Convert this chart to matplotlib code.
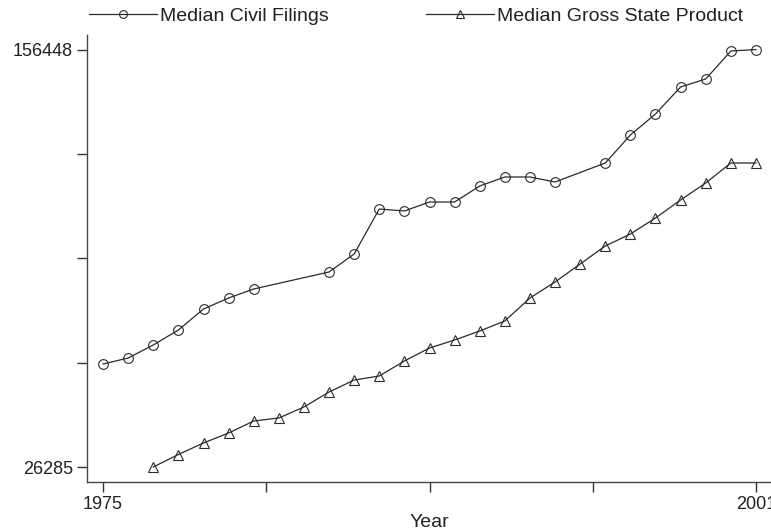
import numpy as np
import matplotlib
matplotlib.use("Agg")
import matplotlib.pyplot as plt

plt.rcParams['font.family'] = ['Liberation Sans', 'DejaVu Sans']

# Median civil filings by year (1982, 1983 and 1994 missing)
civil_years = [1975, 1976, 1977, 1978, 1979, 1980, 1981, 1984, 1985, 1986, 1987,
               1988, 1989, 1990, 1991, 1992, 1993, 1995, 1996, 1997, 1998, 1999,
               2000, 2001]
civil_vals = [58400, 60270, 64330, 69000, 75550, 78980, 81790, 87090, 92700,
              106730, 106110, 108910, 108910, 113900, 116710, 116710, 115150,
              121070, 129800, 136350, 144770, 147260, 155990, 156448]

# Median gross state product by year
gsp_years = list(range(1977, 2002))
gsp_vals = [26285, 30180, 33770, 36890, 40630, 41560, 44990, 49670, 53410,
            54660, 59340, 63390, 65880, 68690, 71810, 78980, 83970, 89580,
            95190, 98930, 103920, 109540, 114840, 121070, 121070]

y_min, y_max = 26285, 156448
x_min, x_max = 1975, 2001

fig = plt.figure(figsize=(7.71, 5.29), dpi=100)
ax = fig.add_axes([87 / 771, 47 / 529, 684 / 771, 447 / 529])

col = '#2a2a2a'
l1, = ax.plot(civil_years, civil_vals, color=col, lw=0.9, marker='o', ms=7,
              mfc='none', mec=col, mew=0.8, label='Median Civil Filings')
l2, = ax.plot(gsp_years, gsp_vals, color=col, lw=0.9, marker='^', ms=7,
              mfc='none', mec=col, mew=0.8, label='Median Gross State Product')

ax.set_xlim(1974.36, 2001.6)
ax.set_ylim(21608, 160983)

ax.set_yticks(np.linspace(y_min, y_max, 5))
ax.set_yticklabels([str(y_min), '', '', '', str(y_max)])
ax.set_xticks(np.linspace(x_min, x_max, 5))
ax.set_xticklabels([str(x_min), '', '', '', str(x_max)])

for s in ['top', 'right']:
    ax.spines[s].set_visible(False)
for s in ['left', 'bottom']:
    ax.spines[s].set_color('#444444')
    ax.spines[s].set_linewidth(1.0)
ax.tick_params(length=7, width=1.0, color='#333333', labelsize=13,
               labelcolor='#222222', pad=3)

ax.set_xlabel('Year', fontsize=14, color='#222222', labelpad=1)

fig.legend(handles=[l1, l2], loc='upper center', bbox_to_anchor=(0.54, 1.02),
           ncol=2, frameon=False, fontsize=14, handlelength=3.5,
           handletextpad=0.15, columnspacing=5.0, markerscale=0.8,
           labelcolor='#222222')

fig.savefig('out.png', dpi=100)
